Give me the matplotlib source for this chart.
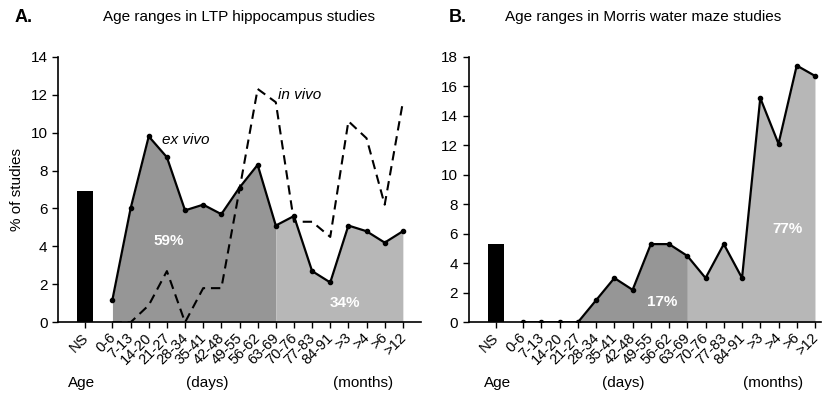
import matplotlib
matplotlib.use("Agg")
import matplotlib.pyplot as plt
import matplotlib.transforms as mtransforms
import numpy as np

plt.rcParams['font.family'] = ['Liberation Sans', 'DejaVu Sans']

categories = ["0-6", "7-13", "14-20", "21-27", "28-34", "35-41", "42-48", "49-55",
              "56-62", "63-69", "70-76", "77-83", "84-91", ">3", ">4", ">6", ">12"]
ns_label = "NS"

# Panel A: LTP hippocampus
ltp_ns = 6.9
ltp_ex_vivo = [1.2, 6.0, 9.8, 8.7, 5.9, 6.2, 5.7, 7.1, 8.3, 5.1, 5.6, 2.7, 2.1, 5.1, 4.8, 4.2, 4.8]
ltp_in_vivo = [0.0, 0.0, 0.9, 2.7, 0.0, 1.8, 1.8, 7.0, 12.3, 11.6, 5.3, 5.3, 4.5, 10.6, 9.7, 6.2, 11.6]

# Panel B: Morris water maze
mwm_ns = 5.3
mwm_values = [0.0, 0.0, 0.0, 0.0, 1.5, 3.0, 2.2, 5.3, 5.3, 4.5, 3.0, 5.3, 3.0, 15.2, 12.1, 17.4, 16.7]

DARK = "#969696"
LIGHT = "#b7b7b7"
FS = 11

fig = plt.figure(figsize=(8.22, 3.99), dpi=100)

x = np.arange(len(categories))
ns_x = -1.5
split = categories.index("63-69")

def style_axis(ax, ymax, xmax):
    ax.set_xlim(-3, xmax)
    ax.set_ylim(0, ymax)
    for s in ["top", "right"]:
        ax.spines[s].set_visible(False)
    ax.spines["left"].set_bounds(0, ymax)
    ax.spines["left"].set_linewidth(1.2)
    ax.spines["bottom"].set_linewidth(1.2)
    ax.set_xticks([ns_x] + list(x))
    ax.set_xticklabels([ns_label] + categories, rotation=45, ha="right",
                       rotation_mode="anchor", fontsize=10.5)
    ax.tick_params(axis="x", length=4, width=1, pad=2, direction="out")
    ax.tick_params(axis="y", length=4, width=1, labelsize=FS, direction="out")
    ax.set_facecolor("none")
    off = mtransforms.ScaledTranslation(-3/72, 0, fig.dpi_scale_trans)
    for lab in ax.get_xticklabels():
        lab.set_transform(lab.get_transform() + off)

# ---------------- Panel A ----------------
axA = fig.add_axes([58/822, 1-322.3/399, (421-58)/822, (322.3-56.7)/399])
style_axis(axA, 14, 17)
axA.set_yticks(np.arange(0, 15, 2))
axA.bar(ns_x, ltp_ns, width=0.9, color="black", zorder=2)
exA = np.array(ltp_ex_vivo)
axA.fill_between(x[:split+1], 0, exA[:split+1], color=DARK, lw=0, zorder=1)
axA.fill_between(x[split:], 0, exA[split:], color=LIGHT, lw=0, zorder=1)
axA.plot(x, exA, color="black", lw=1.6, marker="o", ms=3, zorder=3)
axA.plot(x, ltp_in_vivo, color="black", lw=1.5, dashes=(4.5, 2.8), zorder=3)
axA.set_ylabel("% of studies", fontsize=FS, labelpad=5)
axA.text(2.75, 9.6, "ex vivo", fontstyle="italic", fontsize=FS, ha="left", va="center")
axA.text(9.1, 12.0, "in vivo", fontstyle="italic", fontsize=FS, ha="left", va="center")
axA.text(3.1, 4.3, "59%", color="white", fontweight="bold", fontsize=FS, ha="center", va="center")
axA.text(12.8, 1.0, "34%", color="white", fontweight="bold", fontsize=FS, ha="center", va="center")

# ---------------- Panel B ----------------
axB = fig.add_axes([468.5/822, 1-322.3/399, (821-468.5)/822, (322.3-56.7)/399])
style_axis(axB, 18, (821-523.3)/18.23)
axB.set_yticks(np.arange(0, 19, 2))
axB.bar(ns_x, mwm_ns, width=0.9, color="black", zorder=2)
mB = np.array(mwm_values)
axB.fill_between(x[:split+1], 0, mB[:split+1], color=DARK, lw=0, zorder=1)
axB.fill_between(x[split:], 0, mB[split:], color=LIGHT, lw=0, zorder=1)
axB.plot(x, mB, color="black", lw=1.6, marker="o", ms=3, zorder=3)
axB.text(7.6, 1.4, "17%", color="white", fontweight="bold", fontsize=FS, ha="center", va="center")
axB.text(14.5, 6.3, "77%", color="white", fontweight="bold", fontsize=FS, ha="center", va="center")

# ---------------- Titles and annotations ----------------
fig.text(15/822, 1-17/399, "A.", fontsize=13, fontweight="bold", ha="left", va="center")
fig.text(239/822, 1-17/399, "Age ranges in LTP hippocampus studies", fontsize=FS, ha="center", va="center")
fig.text(458/822, 1-17/399, "B.", fontsize=13, fontweight="bold", ha="center", va="center")
fig.text(643/822, 1-17/399, "Age ranges in Morris water maze studies", fontsize=FS, ha="center", va="center")

for xa, lab in [(82, "Age"), (207, "(days)"), (363, "(months)"),
                (498, "Age"), (623, "(days)"), (773, "(months)")]:
    fig.text(xa/822, 1-383/399, lab, fontsize=FS, ha="center", va="center")

fig.savefig("out.png", dpi=100)
